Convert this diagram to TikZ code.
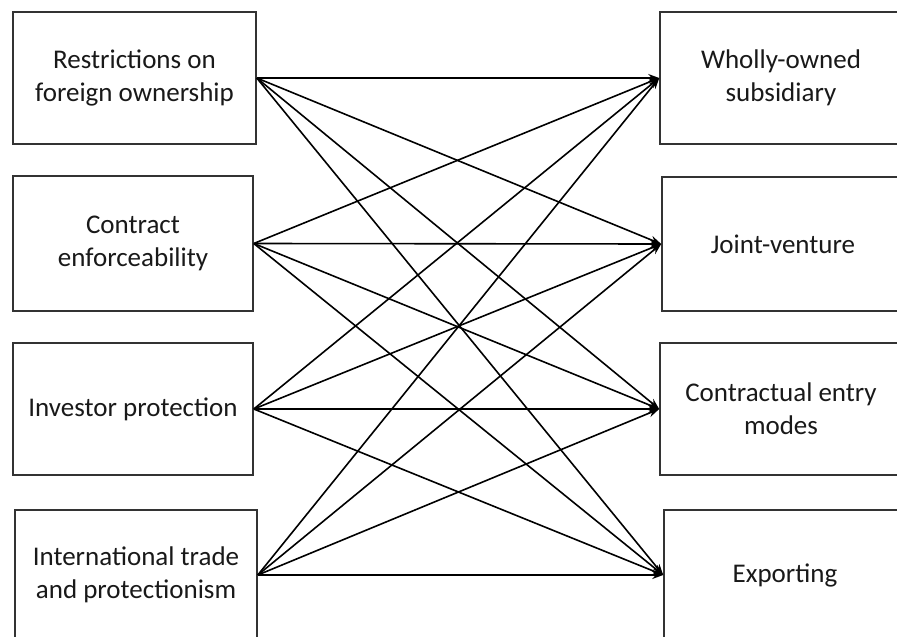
\documentclass[tikz,border=0pt]{standalone}
\usepackage{fontspec}
\setmainfont{Carlito}
\usetikzlibrary{arrows.meta}
\begin{document}
\begin{tikzpicture}[x=1pt,y=-1pt,
  box/.style={draw=black!80,line width=1.6pt,rectangle,align=center,inner sep=0pt,
    font=\fontsize{27}{33}\selectfont,text=black!90},
  link/.style={line width=1.6pt,black,-{Stealth[length=11pt,width=8pt]}}]
\clip (0,0) rectangle (897,637);
\fill[white] (0,0) rectangle (897,637);
\node[box,minimum width=243pt,minimum height=132pt] (l1) at (134.5,78) {Restrictions on\\foreign ownership};
\node[box,minimum width=240pt,minimum height=135pt] (l2) at (133,243.5) {Contract\\enforceability};
\node[box,minimum width=240pt,minimum height=132pt] (l3) at (133,409) {Investor protection};
\node[box,minimum width=242pt,minimum height=130pt] (l4) at (136,575) {International trade\\and protectionism};
\node[box,minimum width=242pt,minimum height=132pt] (r1) at (781,78) {Wholly-owned\\subsidiary};
\node[box,minimum width=242pt,minimum height=134pt] (r2) at (783,244) {Joint-venture};
\node[box,minimum width=242pt,minimum height=132pt] (r3) at (781,409) {Contractual entry\\modes};
\node[box,minimum width=242pt,minimum height=130pt] (r4) at (785,575) {Exporting};
\foreach \a in {l1,l2,l3,l4}{
  \foreach \b in {r1,r2,r3,r4}{
    \draw[link] (\a.east) -- (\b.west);
  }
}
\end{tikzpicture}
\end{document}
